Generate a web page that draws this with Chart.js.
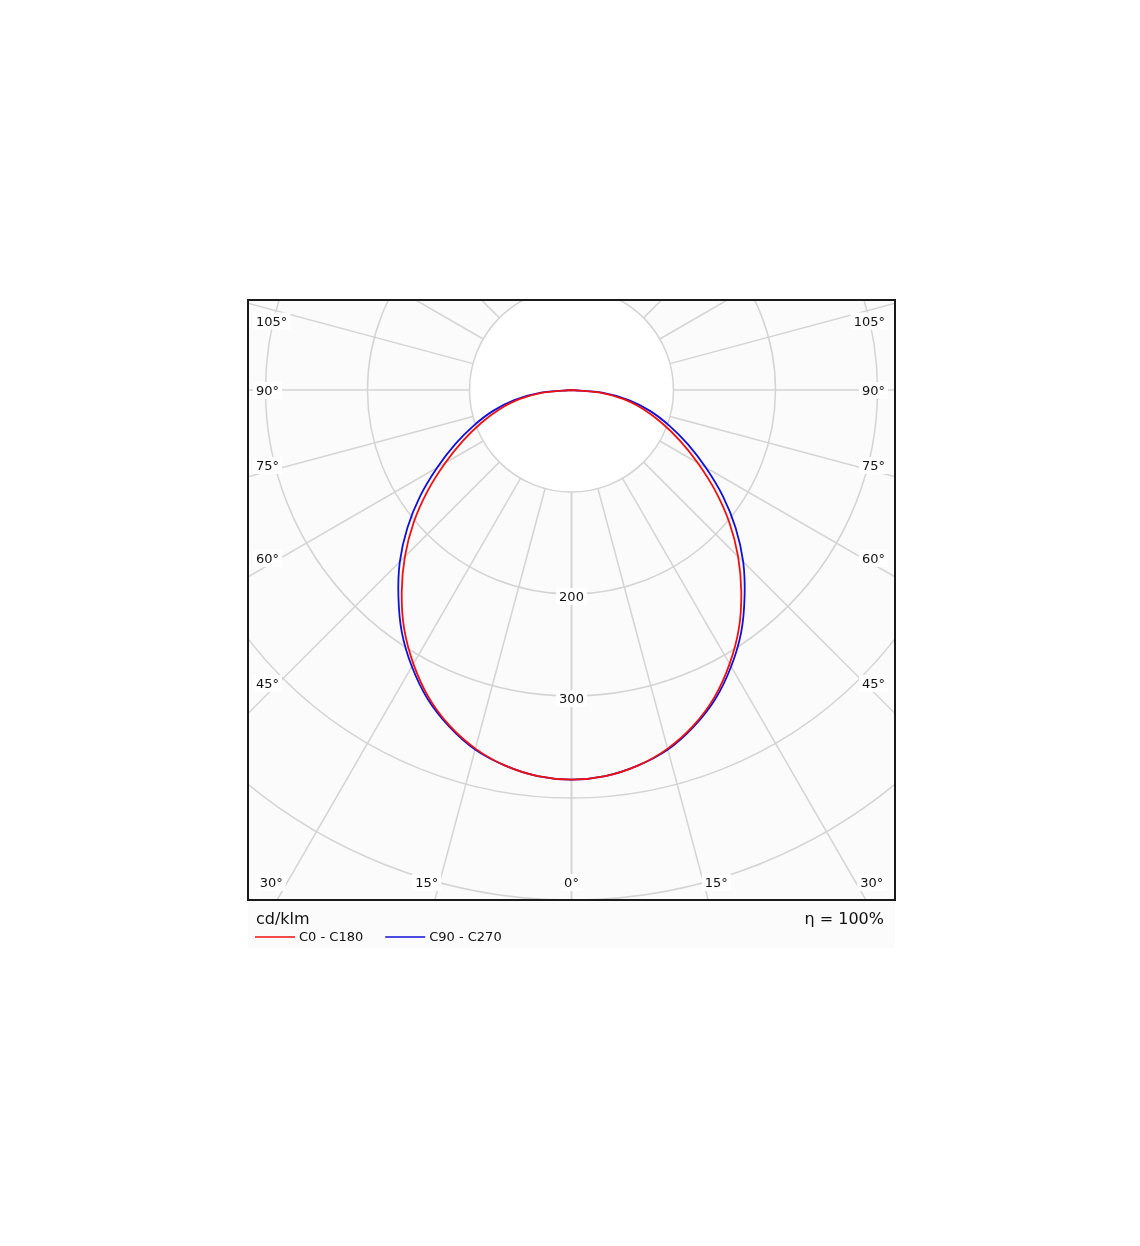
<!DOCTYPE html>
<html>
<head>
<meta charset="utf-8">
<script src="https://cdn.jsdelivr.net/npm/chart.js@4.4.0/dist/chart.umd.min.js"></script>
<style>
  html, body { margin: 0; padding: 0; background: #fff; }
  #wrap { position: absolute; left: 0; top: 0; width: 1140px; height: 1246px; }
</style>
</head>
<body>
<div id="wrap"><canvas id="polarChart" width="1140" height="1246"></canvas></div>
<script>
// gamma angles (deg from nadir) and intensities in cd/klm, symmetric left/right
const gammaAngles = [0, 5, 10, 15, 20, 25, 30, 35, 40, 45, 50, 55, 60, 65, 70, 75, 80, 85, 90];
const c0c180  = [382, 380, 374, 364, 350, 332, 310, 286, 259, 231, 202, 172, 143, 117, 94, 73, 52, 27, 0];
const c90c270 = [382, 380, 374, 365, 351, 334, 313, 290, 264, 238, 210, 181, 152, 126, 102, 80, 57, 30, 0];

const seriesNames = ['C0 - C180', 'C90 - C270'];
const seriesColors = ['#f01010', '#1010d8'];
const ringValues = [100, 200, 300, 400, 500];
const ringLabels = [200, 300];
const spokeAngles = [0, 15, 30, 45, 60, 75, 90, 105, 120, 135, 150, 165, 180];
const sideLabels = [45, 60, 75, 90, 105];
const bottomLabels = [0, 15, 30];
const unitText = 'cd/klm';
const etaText = 'η = 100%';

const FONT = '"DejaVu Sans", Verdana, sans-serif';
const rad = d => d * Math.PI / 180;

// polar -> cartesian: left half goes from 90° down to 0°, right half back up to 90°
function toPoints(values) {
  const pts = [];
  for (let i = gammaAngles.length - 1; i >= 0; i--) {
    const g = rad(gammaAngles[i]);
    pts.push({ x: -values[i] * Math.sin(g), y: -values[i] * Math.cos(g) });
  }
  for (let i = 1; i < gammaAngles.length; i++) {
    const g = rad(gammaAngles[i]);
    pts.push({ x: values[i] * Math.sin(g), y: -values[i] * Math.cos(g) });
  }
  return pts;
}

function boxedText(ctx, text, x, y, align) {
  const w = ctx.measureText(text).width;
  let left = x;
  if (align === 'center') left = x - w / 2;
  if (align === 'right') left = x - w;
  ctx.fillStyle = '#fff';
  ctx.fillRect(left - 3, y - 8, w + 6, 17);
  ctx.fillStyle = '#111';
  ctx.textAlign = align;
  ctx.fillText(text, x, y + 2);
}

const polarGrid = {
  id: 'polarGrid',
  beforeDatasetsDraw(chart) {
    const { ctx, chartArea: a, scales: { x, y } } = chart;
    const cx = x.getPixelForValue(0), cy = y.getPixelForValue(0);
    const px = v => x.getPixelForValue(v) - cx;
    const r0 = px(ringValues[0]);
    ctx.save();
    ctx.fillStyle = '#fbfbfb';
    ctx.fillRect(a.left, a.top, a.width, a.height + 48);
    ctx.beginPath();
    ctx.rect(a.left, a.top, a.width, a.height);
    ctx.clip();
    ctx.fillStyle = '#fff';
    ctx.beginPath();
    ctx.arc(cx, cy, r0, 0, 2 * Math.PI);
    ctx.fill();
    ctx.strokeStyle = '#d4d4d4';
    ctx.lineWidth = 1.5;
    ringValues.forEach(v => {
      ctx.beginPath();
      ctx.arc(cx, cy, px(v), 0, 2 * Math.PI);
      ctx.stroke();
    });
    spokeAngles.forEach(g => {
      [-1, 1].forEach(s => {
        const dx = s * Math.sin(rad(g)), dy = Math.cos(rad(g));
        ctx.beginPath();
        ctx.moveTo(cx + dx * r0, cy + dy * r0);
        ctx.lineTo(cx + dx * 2000, cy + dy * 2000);
        ctx.stroke();
      });
    });
    ctx.restore();
  },
  afterDatasetsDraw(chart) {
    const { ctx, chartArea: a, scales: { x, y } } = chart;
    const cx = x.getPixelForValue(0), cy = y.getPixelForValue(0);
    const px = v => x.getPixelForValue(v) - cx;
    ctx.save();
    ctx.textBaseline = 'middle';
    ctx.font = '13px ' + FONT;
    ringLabels.forEach(v => boxedText(ctx, String(v), cx, cy + px(v) + 2, 'center'));

    // angle labels sit just beside where each spoke leaves the frame
    const sideDx = cx - (a.left + 18);
    sideLabels.forEach(g => {
      const phi = 90 - g;
      const shift = phi < 0 ? 2.2 : 1.2;
      const phiS = phi === 0 ? 0 : phi - Math.sign(phi) * shift;
      const ly = cy + sideDx * Math.tan(rad(phiS));
      boxedText(ctx, g + '°', a.left + 8, ly, 'left');
      boxedText(ctx, g + '°', a.right - 10, ly, 'right');
    });
    const by = a.bottom - 18;
    const bottomDy = by - cy;
    bottomLabels.forEach(g => {
      const gs = g === 0 ? 0 : g + 1.4;
      const off = bottomDy * Math.tan(rad(gs));
      boxedText(ctx, g + '°', cx - off, by, 'center');
      if (g !== 0) boxedText(ctx, g + '°', cx + off, by, 'center');
    });

    ctx.strokeStyle = '#1a1a1a';
    ctx.lineWidth = 2;
    ctx.strokeRect(a.left, a.top, a.width, a.height);

    // footer: unit, efficiency, legend
    ctx.fillStyle = '#111';
    ctx.font = '16px ' + FONT;
    ctx.textAlign = 'left';
    ctx.fillText(unitText, a.left + 8, a.bottom + 20);
    ctx.textAlign = 'right';
    ctx.fillText(etaText, a.right - 11, a.bottom + 20);
    ctx.font = '13px ' + FONT;
    ctx.textAlign = 'left';
    let lx = a.left + 7;
    const ly = a.bottom + 37;
    seriesNames.forEach((name, i) => {
      ctx.strokeStyle = seriesColors[i];
      ctx.lineWidth = 1.5;
      ctx.beginPath();
      ctx.moveTo(lx, ly);
      ctx.lineTo(lx + 40, ly);
      ctx.stroke();
      ctx.fillStyle = '#111';
      ctx.fillText(name, lx + 44, ly + 1);
      lx += 44 + ctx.measureText(name).width + 22;
    });
    ctx.restore();
  }
};

new Chart(document.getElementById('polarChart'), {
  type: 'scatter',
  data: {
    datasets: [c0c180, c90c270].map((vals, i) => ({
      label: seriesNames[i],
      data: toPoints(vals),
      showLine: true,
      borderColor: seriesColors[i],
      borderWidth: 1.8,
      pointRadius: 0,
      tension: 0.25,
      fill: false
    }))
  },
  options: {
    responsive: false,
    animation: false,
    devicePixelRatio: 1,
    layout: { padding: { left: 248, top: 300, right: 245, bottom: 346 } },
    scales: {
      x: { type: 'linear', display: false, min: -317.16, max: 317.16 },
      y: { type: 'linear', display: false, min: -500, max: 88.24 }
    },
    plugins: { legend: { display: false }, tooltip: { enabled: false } }
  },
  plugins: [polarGrid]
});
</script>
</body>
</html>
